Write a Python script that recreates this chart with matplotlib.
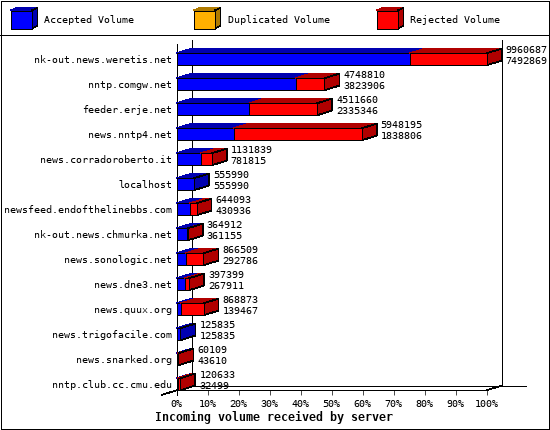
import matplotlib
matplotlib.use("Agg")
import matplotlib.pyplot as plt
from matplotlib.patches import Polygon

servers = ["nk-out.news.weretis.net", "nntp.comgw.net", "feeder.erje.net", "news.nntp4.net",
           "news.corradoroberto.it", "localhost", "newsfeed.endofthelinebbs.com",
           "nk-out.news.chmurka.net", "news.sonologic.net", "news.dne3.net", "news.quux.org",
           "news.trigofacile.com", "news.snarked.org", "nntp.club.cc.cmu.edu"]
totals = [9960687, 4748810, 4511660, 5948195, 1131839, 555990, 644093,
          364912, 866509, 397399, 868873, 125835, 60109, 120633]
accepted = [7492869, 3823906, 2335346, 1838806, 781815, 555990, 430936,
            361155, 292786, 267911, 139467, 125835, 43610, 32499]
legend_names = ["Accepted Volume", "Duplicated Volume", "Rejected Volume"]
pct_ticks = list(range(0, 101, 10))
title = "Incoming volume received by server"

BLUE, DBLUE = "#0000FF", "#0000B0"
RED, DRED = "#FF0000", "#B00000"
ORANGE, DORANGE = "#FFB000", "#B07B00"
W, H = 550, 430
plt.rcParams["font.family"] = ["DejaVu Sans Mono"]
plt.rcParams["text.hinting"] = "no_autohint"
FS = 7.2
LW = 0.5

fig = plt.figure(figsize=(W / 100, H / 100), dpi=100, facecolor="white")

# pixel-space overlay for the frame and the legend
page = fig.add_axes([0, 0, 1, 1])
page.set_xlim(0, W)
page.set_ylim(H, 0)
page.axis("off")
page.plot([0.5, 548.5, 548.5, 0.5, 0.5], [0.5, 0.5, 429, 429, 0.5], color="k", lw=0.72, antialiased=False)
page.plot([0, 549], [35, 35], color="k", lw=LW, antialiased=False)


def box(ax, x0, x1, y0, y1, dx, dy, front, top, side, z=3):
    kw = dict(antialiased=False, clip_on=False, zorder=z)
    ax.add_patch(Polygon([(x0, y0), (x0 + dx, y0 - dy), (x1 + dx, y0 - dy), (x1, y0)], fc=top, ec=top, lw=LW, **kw))
    if side:
        ax.add_patch(Polygon([(x1, y0), (x1 + dx, y0 - dy), (x1 + dx, y1 - dy), (x1, y1)], fc=side, ec="k", lw=LW, **kw))
    ax.add_patch(Polygon([(x0, y0), (x1, y0), (x1, y1), (x0, y1)], fc=front, ec="k", lw=LW, **kw))


legend_x = [10.5, 193.5, 376.5]
legend_cols = [(BLUE, DBLUE), (ORANGE, DORANGE), (RED, DRED)]
for x, name, (c, d) in zip(legend_x, legend_names, legend_cols):
    box(page, x, x + 21, 10.5, 28.5, 6, 2.5, c, d, d)
    page.text(x + 34, 20, name, fontsize=FS, va="center", ha="left")

# chart axes: x in percent, y in category index
PX0, PX1 = 176.5, 486.7
PY_TOP, PY_BOT = 44.3, 390.3
C0, PITCH = 59.3, 25.0
ax = fig.add_axes([PX0 / W, 1 - PY_BOT / H, (PX1 - PX0) / W, (PY_BOT - PY_TOP) / H])
ax.patch.set_alpha(0)
ax.set_xlim(0, 100)
ax.set_ylim((PY_BOT - C0) / PITCH, (PY_TOP - C0) / PITCH)
for s in ("top", "right"):
    ax.spines[s].set_visible(False)
for s in ("left", "bottom"):
    ax.spines[s].set_linewidth(LW)
    ax.spines[s].set_antialiased(False)

ux = (PX1 - PX0) / 100
DX = 15 / ux
DY = 4.7 / PITCH
HB = 6 / PITCH

ax.set_xticks(pct_ticks, [f"{p}%" for p in pct_ticks], fontsize=FS)
ax.set_yticks(range(len(servers)), servers, fontsize=FS)
ax.tick_params(axis="x", length=3.6, width=LW, pad=3)
ax.tick_params(axis="y", length=0, pad=3)

# walls of the 3D frame
line = dict(color="k", lw=LW, clip_on=False, antialiased=False, zorder=1)
yb, yt = ax.get_ylim()
ax.plot([DX, DX], [yb - DY, yt - 4.3 / PITCH], **line)
ax.plot([100 + DX, 100 + DX], [yb - DY, yt - 4.3 / PITCH], **line)
ax.plot([DX, 100 + 39.3 / ux], [yb - DY, yb - DY], **line)
ax.plot([-DX, 0], [yb + DY, yb], **line)
ax.plot([100, 100 + DX], [yb, yb - DY], **line)
ax.plot([0, 0], [yb, yb + 5 / PITCH], **line)

vmax = max(totals)
for i, (tot, acc) in enumerate(zip(totals, accepted)):
    pa = acc / vmax * 100
    pt = tot / vmax * 100
    rejected = tot - acc
    box(ax, 0, pa, i - HB, i + HB, DX, DY, BLUE, DBLUE, DBLUE if rejected == 0 else None)
    if rejected:
        box(ax, pa, pt, i - HB, i + HB, DX, DY, RED, DRED, DRED)
    tx = pt + DX + 4 / ux
    ax.text(tx, i - 9.3 / PITCH, str(tot), fontsize=FS, va="center", ha="left", clip_on=False, zorder=5)
    ax.text(tx, i + 1.7 / PITCH, str(acc), fontsize=FS, va="center", ha="left", clip_on=False, zorder=5)

page.text(274, 417, title, fontsize=8.4, fontweight="bold", ha="center", va="center")

fig.savefig("out.png", dpi=100)
